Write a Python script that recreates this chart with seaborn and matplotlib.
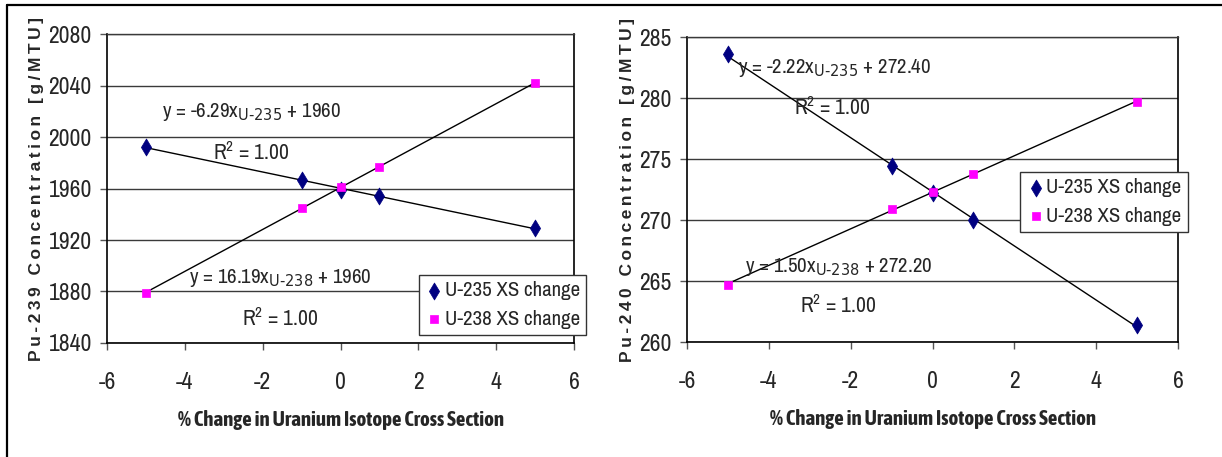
import numpy as np
import pandas as pd
import matplotlib.pyplot as plt
import seaborn as sns
from matplotlib.lines import Line2D

# data
pct_change = [-5, -1, 0, 1, 5]
pu239_u235 = [1992, 1967, 1959, 1954, 1929]
pu239_u238 = [1879, 1945, 1961, 1977, 2042]
pu240_u235 = [283.6, 274.4, 272.2, 270.0, 261.4]
pu240_u238 = [264.7, 270.9, 272.3, 273.8, 279.7]

series_names = ["U-235 XS change", "U-238 XS change"]
left_eqs = [r"y = -6.29x$_{\text{U-235}}$ + 1960", r"y = 16.19x$_{\text{U-238}}$ + 1960"]
right_eqs = [r"y = -2.22x$_{\text{U-235}}$ + 272.40", r"y = 1.50x$_{\text{U-238}}$ + 272.20"]
r2_text = "R$^2$ = 1.00"

sns.set_style("ticks")
plt.rcParams['font.family'] = ['Archivo Narrow', 'Liberation Sans', 'DejaVu Sans']
plt.rcParams['mathtext.default'] = 'regular'
plt.rcParams['axes.unicode_minus'] = False

palette = {series_names[0]: "#000080", series_names[1]: "#FF00FF"}
markers = {series_names[0]: "d", series_names[1]: "s"}
sizes = {series_names[0]: 75, series_names[1]: 28}


def make_df(a, b):
    return pd.DataFrame({
        "x": pct_change * 2,
        "y": list(a) + list(b),
        "series": [series_names[0]] * len(a) + [series_names[1]] * len(b),
    })


def spaced(s):
    # the original axis titles are letter-spaced
    return "\u2009".join(s)


def draw_panel(ax, df, ylim, yticks, ylabel, eqs, eq_pos, r2_pos, leg_anchor):
    # trend lines
    for name in series_names:
        sub = df[df["series"] == name]
        sns.regplot(data=sub, x="x", y="y", ax=ax, scatter=False, ci=None,
                    truncate=True, color="black", line_kws={"lw": 1.0})
    # points
    for name in series_names:
        sub = df[df["series"] == name]
        sns.scatterplot(data=sub, x="x", y="y", ax=ax, marker=markers[name],
                        color=palette[name], s=sizes[name], edgecolor=palette[name],
                        linewidth=0.5, label=name, zorder=5)
    ax.set_xlim(-6, 6)
    ax.set_xticks(np.arange(-6, 7, 2))
    ax.set_ylim(*ylim)
    ax.set_yticks(yticks)
    ax.yaxis.grid(True, color="#3a3a3a", lw=1.0)
    ax.set_axisbelow(True)
    for sp in ["left", "bottom", "right"]:
        ax.spines[sp].set_color("black")
        ax.spines[sp].set_linewidth(1.2)
    ax.spines["top"].set_color("#3a3a3a")
    ax.spines["top"].set_linewidth(1.0)
    ax.tick_params(axis="both", direction="out", length=5, width=1,
                   color="#555555", labelsize=17)
    ax.tick_params(axis="x", pad=16)
    ax.tick_params(axis="y", pad=6)
    ax.set_xlabel("% Change in Uranium Isotope Cross Section", fontsize=15,
                  fontweight="bold", family=["Asap Condensed", "Liberation Sans"],
                  labelpad=12)
    ax.set_ylabel(spaced(ylabel), fontsize=12.5, fontweight="bold",
                  family=["Liberation Sans", "DejaVu Sans"], labelpad=3)
    for txt, (x, y) in zip(eqs, eq_pos):
        ax.text(x, y, txt, fontsize=15, ha="center", va="center")
    for (x, y) in r2_pos:
        ax.text(x, y, r2_text, fontsize=15.5, ha="center", va="center")
    leg = ax.legend(loc="lower right", bbox_to_anchor=leg_anchor, borderaxespad=0,
                    fontsize=15, frameon=True, fancybox=False, framealpha=1,
                    edgecolor="#333333", handletextpad=0.05, handlelength=0.9,
                    borderpad=0.3, labelspacing=0.45, markerscale=1.0)
    leg.get_frame().set_linewidth(1.0)


fig = plt.figure(figsize=(12.22, 4.57), dpi=100)
ax1 = fig.add_axes([0.0876, 0.2495, 0.3822, 0.676])
ax2 = fig.add_axes([0.5622, 0.2516, 0.4018, 0.667])

draw_panel(ax1, make_df(pu239_u235, pu239_u238), (1840, 2080),
           np.arange(1840, 2081, 40), "Pu-239 Concentration [g/MTU]",
           left_eqs, [(-2.29, 2019.4), (-1.55, 1890.5)],
           [(-2.29, 1988), (-1.55, 1859)], (1.026, 0.026))
draw_panel(ax2, make_df(pu240_u235, pu240_u238), (260, 285),
           np.arange(260, 286, 5), "Pu-240 Concentration [g/MTU]",
           right_eqs, [(-2.4, 282.46), (-2.3, 266.15)],
           [(-2.45, 279.26), (-2.31, 263.0)], (1.020, 0.361))

# outer frame (left and top edges visible)
fig.add_artist(Line2D([7 / 1222, 7 / 1222], [0, 1 - 5 / 457],
                      transform=fig.transFigure, color="black", lw=1.6))
fig.add_artist(Line2D([7 / 1222, 1], [1 - 5 / 457, 1 - 5 / 457],
                      transform=fig.transFigure, color="black", lw=1.6))

fig.savefig("out.png", dpi=100)
